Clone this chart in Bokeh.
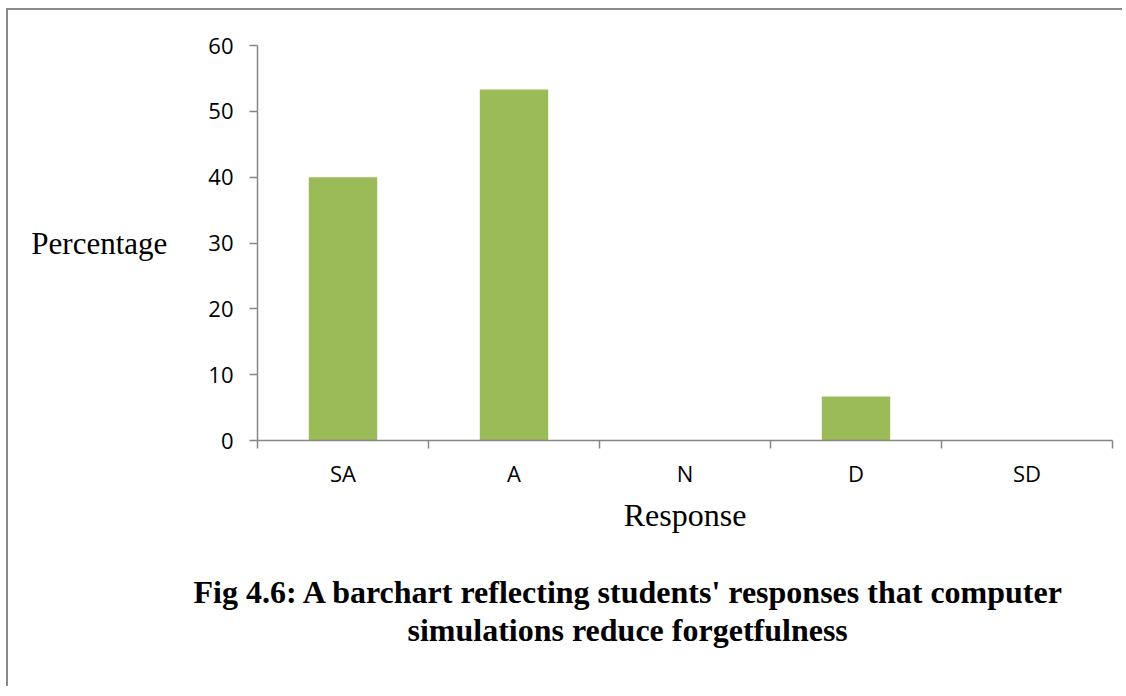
from bokeh.plotting import figure
from bokeh.models import FixedTicker, Range1d, Title
from bokeh.embed import file_html
from bokeh.resources import INLINE

# ---- data ----
categories = ["SA", "A", "N", "D", "SD"]
percentages = [40.0, 53.3, 0.0, 6.7, 0.0]
y_ticks = [0, 10, 20, 30, 40, 50, 60]
x_label = "Response"
y_label = "Percentage"
caption_lines = [
    "Fig 4.6: A barchart reflecting students' responses that computer",
    "simulations reduce forgetfulness",
]

AXIS_COLOR = "#868686"
BAR_COLOR = "#9BBB59"

centers = [i + 0.5 for i in range(len(categories))]
bounds = [float(i) for i in range(len(categories) + 1)]

p = figure(
    width=1116, height=678,
    x_range=Range1d(0, len(categories)), y_range=Range1d(0, 60),
    output_backend="svg", toolbar_location=None,
    min_border_left=249, min_border_right=12, min_border_top=35, min_border_bottom=248,
)
p.styles = {
    "margin-left": "6px", "margin-top": "8px",
    "border-left": "2px solid #8a8a8a", "border-top": "2px solid #8a8a8a",
}
p.outline_line_color = None
p.grid.visible = False
p.background_fill_color = "white"
p.border_fill_color = "white"

p.vbar(x=centers, top=percentages, width=0.4, color=BAR_COLOR, line_color=None)

# y axis
ya = p.yaxis[0]
ya.ticker = FixedTicker(ticks=y_ticks)
ya.axis_line_color = AXIS_COLOR
ya.axis_line_width = 1.5
ya.major_tick_line_color = AXIS_COLOR
ya.major_tick_line_width = 1.5
ya.major_tick_out = 8
ya.major_tick_in = 0
ya.minor_tick_line_color = None
ya.major_label_standoff = 16
ya.major_label_text_font = "Open Sans"
ya.major_label_text_font_size = "22px"
ya.major_label_text_color = "black"
ya.axis_label = y_label
ya.axis_label_orientation = "horizontal"
ya.axis_label_text_font = "Liberation Serif"
ya.axis_label_text_font_style = "normal"
ya.axis_label_text_font_size = "31px"
ya.axis_label_text_color = "black"
ya.axis_label_standoff = 38

# x axis: labels at centers, ticks at boundaries
xa = p.xaxis[0]
xa.ticker = FixedTicker(ticks=centers, minor_ticks=bounds)
xa.major_label_overrides = {c: cat for c, cat in zip(centers, categories)}
xa.axis_line_color = AXIS_COLOR
xa.axis_line_width = 1.5
xa.major_tick_line_color = None
xa.major_tick_out = 0
xa.major_tick_in = 0
xa.minor_tick_line_color = AXIS_COLOR
xa.minor_tick_line_width = 1.5
xa.minor_tick_out = 8
xa.minor_tick_in = 0
xa.major_label_standoff = 9
xa.major_label_text_font = "Open Sans"
xa.major_label_text_font_size = "22px"
xa.major_label_text_color = "black"
xa.axis_label = x_label + "\n"   # trailing empty line leaves room above the caption
xa.axis_label_text_font = "Liberation Serif"
xa.axis_label_text_font_style = "normal"
xa.axis_label_text_font_size = "32px"
xa.axis_label_text_color = "black"
xa.axis_label_text_line_height = 1.0
xa.axis_label_standoff = 6

# caption below the chart
for line, off in zip(caption_lines, [-64, 150]):
    p.add_layout(Title(
        text=line, align="left", offset=off, standoff=0,
        text_font="Liberation Serif", text_font_style="bold",
        text_font_size="32px", text_color="black",
    ), "below")

open("out.html", "w").write(file_html(p, INLINE))
